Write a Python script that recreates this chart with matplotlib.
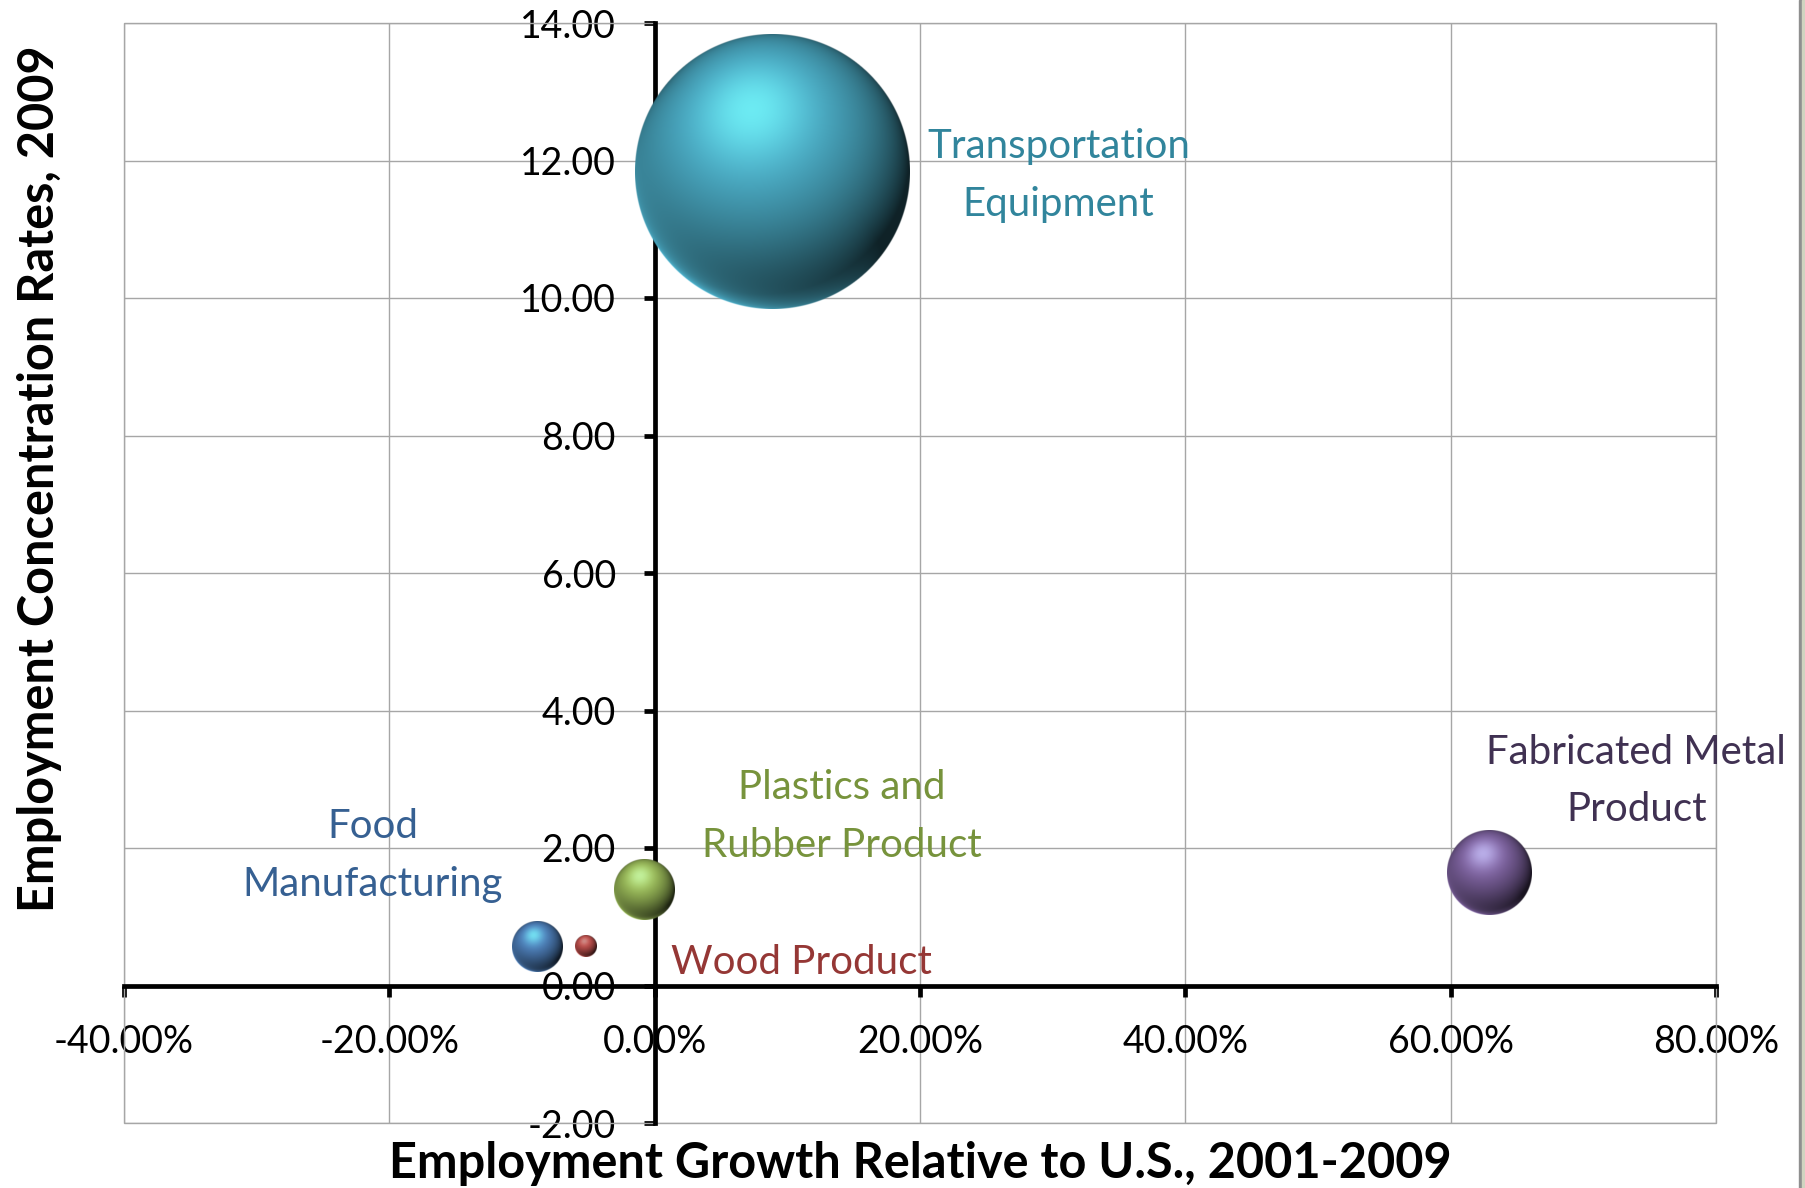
import numpy as np
import matplotlib
matplotlib.use('Agg')
import matplotlib.pyplot as plt
from matplotlib.patches import Rectangle
from matplotlib.colors import to_rgb

# ── data ─────────────────────────────────────────────────────────────────────
industries = ['Transportation\nEquipment', 'Fabricated Metal\nProduct',
              'Plastics and\nRubber Product', 'Food\nManufacturing', 'Wood Product']
growth     = [8.87, 62.9, -0.75, -8.87, -5.2]     # % relative to U.S., 2001-2009
concentr   = [11.84, 1.64, 1.39, 0.56, 0.575]     # concentration rate, 2009
employment = [9800, 925, 480, 325, 60]            # bubble size (estimated)

x_ticks = [-40, -20, 0, 20, 40, 60, 80]
y_ticks = [-2, 0, 2, 4, 6, 8, 10, 12, 14]

# ── styles ───────────────────────────────────────────────────────────────────
ball_colors  = ['#4bacc6', '#8064a2', '#9bbb59', '#4f81bd', '#c0504d']
label_colors = ['#31859c', '#403152', '#77933c', '#366092', '#953735']
label_offset = [(206, -3), (106, 66), (142, 53), (-118, 66), (155, -12)]   # points
GRID = '#a6a6a6'
FONT = 'Lato'

W, H, DPI = 1806, 1188, 100
fig = plt.figure(figsize=(W / DPI, H / DPI), dpi=DPI, facecolor='white')
L, R, T, B = 124, 1716, 23, 1123
ax = fig.add_axes([L / W, 1 - B / H, (R - L) / W, (B - T) / H])
ax.set_xlim(-40, 80)
ax.set_ylim(-2, 14)
ax.set_autoscale_on(False)

ax.set_xticks(x_ticks)
ax.set_yticks(y_ticks)
ax.set_xticklabels([f'{v:.2f}%' for v in x_ticks])
ax.set_yticklabels([f'{v:.2f}' for v in y_ticks])
ax.grid(True, color=GRID, lw=1.0, zorder=0)
ax.set_axisbelow(True)

for s in ('top', 'right'):
    ax.spines[s].set_visible(False)
for s in ('left', 'bottom'):
    ax.spines[s].set_position(('data', 0))
    ax.spines[s].set_linewidth(3.4)
    ax.spines[s].set_color('black')
    ax.spines[s].set_zorder(3)
ax.add_patch(Rectangle((0, 0), 1, 1, transform=ax.transAxes, fill=False,
                       edgecolor=GRID, lw=1.0, clip_on=False, zorder=1))

ax.tick_params(axis='both', direction='out', length=8, width=3.4,
               labelsize=27, pad=20)
for lab in ax.get_xticklabels() + ax.get_yticklabels():
    lab.set_fontfamily(FONT)


# ── shaded spheres ───────────────────────────────────────────────────────────
def sphere_rgba(color, n):
    base = np.array(to_rgb(color))
    c = (np.arange(n) + 0.5) / n * 2 - 1
    xx, yy = np.meshgrid(c, c)           # yy up (origin='lower')
    rho = np.sqrt(xx ** 2 + yy ** 2)
    zz = np.sqrt(np.clip(1 - rho ** 2, 0, 1))
    lv = np.array([-0.15, 0.45, 0.88]); lv /= np.linalg.norm(lv)
    d = np.clip(xx * lv[0] + yy * lv[1] + zz * lv[2], 0, 1)
    spec = d ** 16
    rv = np.array([-0.6, -0.75, 0.2]); rv /= np.linalg.norm(rv)
    rim = np.clip(xx * rv[0] + yy * rv[1] + zz * rv[2], 0, 1) * (1 - zz) ** 1.5
    shade = 0.2 + 0.88 * d ** 1.1
    rgb = base[None, None, :] * shade[..., None]
    rgb += rim[..., None] * (base * 1.25 - rgb) * 0.9
    rgb += spec[..., None] * (np.array([0.8, 1.0, 1.0]) * np.clip(base * 2.0, 0, 1) - rgb) * 0.7
    rgb = np.clip(rgb, 0, 1)
    alpha = np.clip((1 - rho) * n / 2 + 0.5, 0, 1)
    return np.dstack([rgb, alpha])


bbox = ax.get_window_extent()
r_max = 0.125 * min(bbox.width, bbox.height)
e_max = max(employment)
inv = ax.transData.inverted()
for i in range(len(industries)):
    cx, cy = ax.transData.transform((growth[i], concentr[i]))
    r = r_max * np.sqrt(employment[i] / e_max)
    (x0, y0) = inv.transform((cx - r, cy - r))
    (x1, y1) = inv.transform((cx + r, cy + r))
    img = sphere_rgba(ball_colors[i], int(np.ceil(2 * r)) * 2)
    ax.imshow(img, extent=(x0, x1, y0, y1), origin='lower', aspect='auto',
              interpolation='bilinear', zorder=4 + 0.1 * i)
    ax.annotate(industries[i], (growth[i], concentr[i]), xytext=label_offset[i],
                textcoords='offset points', ha='center', va='center',
                multialignment='center', fontsize=29, family=FONT,
                color=label_colors[i], linespacing=1.68, zorder=6)

ax.set_xlim(-40, 80)
ax.set_ylim(-2, 14)

fig.text(920 / W, 1 - 1178 / H, 'Employment Growth Relative to U.S., 2001-2009',
         ha='center', va='baseline', fontsize=35, fontweight='bold', family=FONT)
fig.text(40 / W, 1 - 479 / H, 'Employment Concentration Rates, 2009',
         ha='center', va='center', rotation=90, fontsize=35, fontweight='bold',
         family=FONT)

# window edge on the right
fig.patches.append(Rectangle((1799 / W, 0), 3 / W, 1, transform=fig.transFigure,
                             color='#8f8f8f', zorder=10))
fig.patches.append(Rectangle((1802 / W, 0), 4 / W, 1, transform=fig.transFigure,
                             color='#d0d4c0', zorder=10))

fig.savefig('out.png', dpi=DPI, facecolor='white')
